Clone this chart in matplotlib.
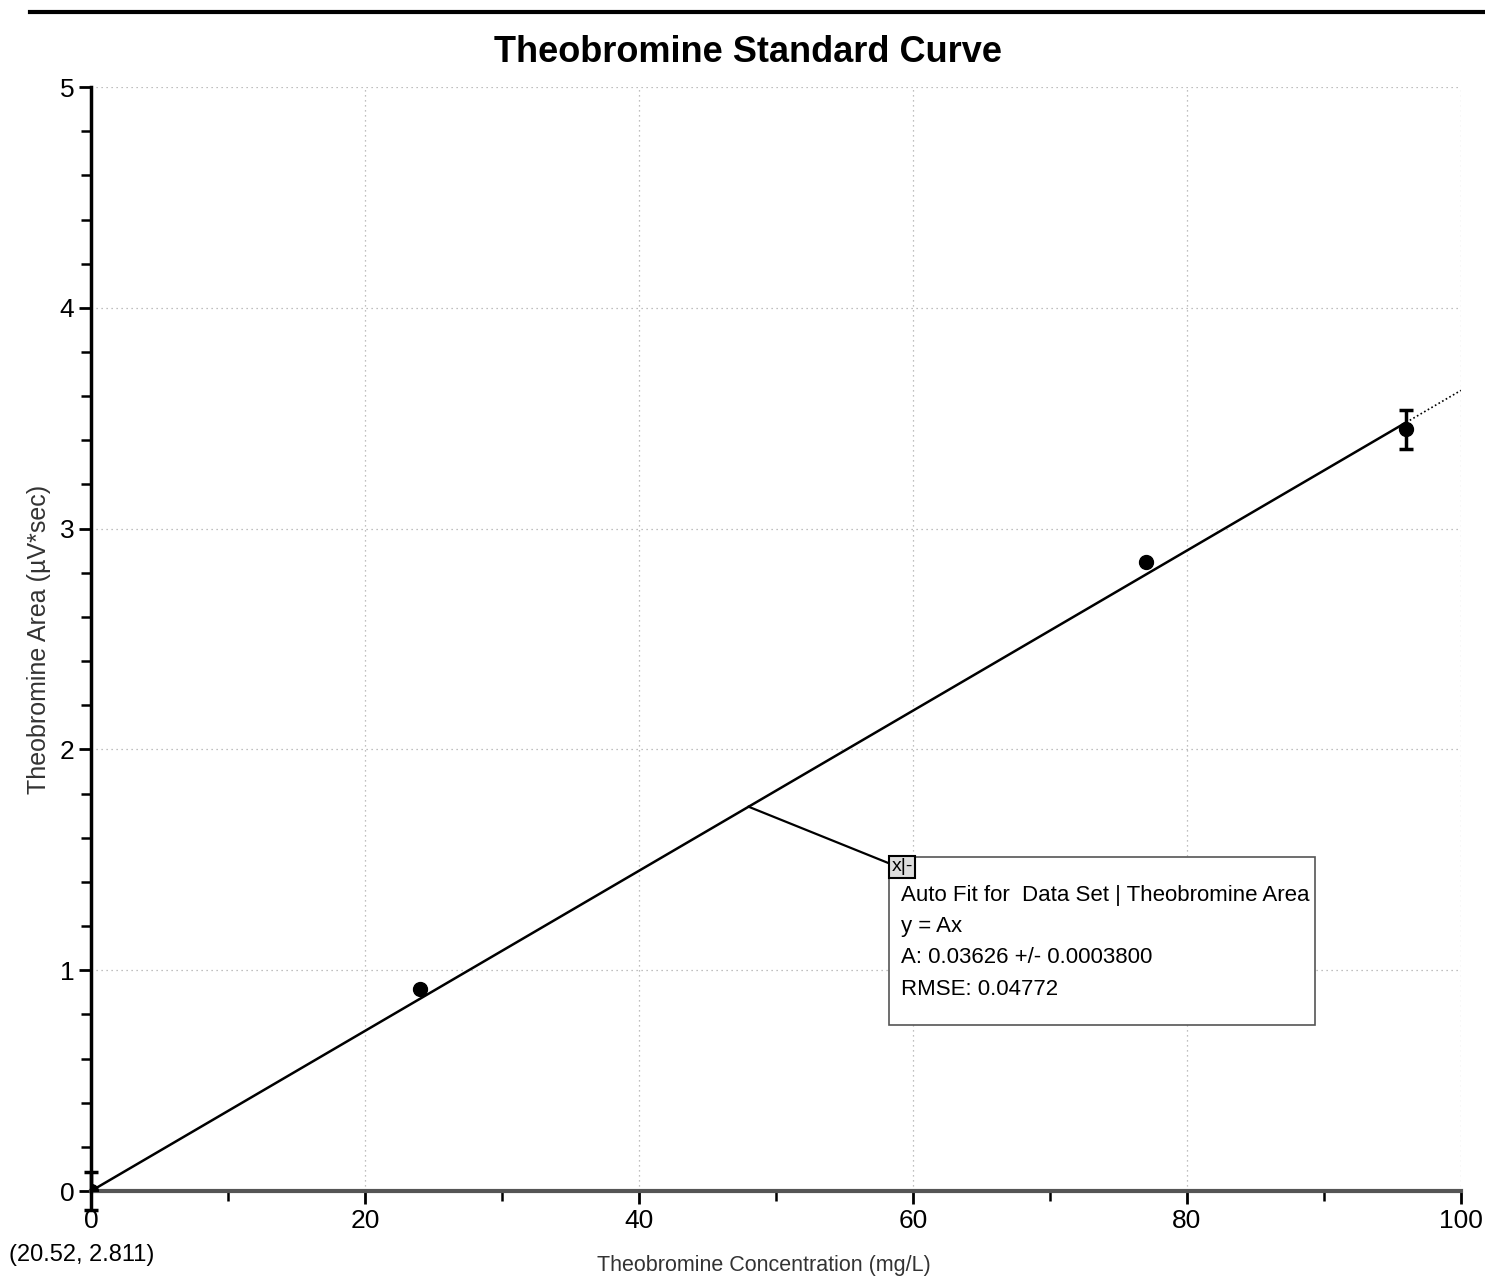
import matplotlib
matplotlib.use("Agg")
import matplotlib.pyplot as plt
import numpy as np
from matplotlib.ticker import MultipleLocator
from matplotlib.patches import Rectangle

plt.rcParams['font.family'] = ['Liberation Sans', 'DejaVu Sans']

# Standard samples
conc = [0.0, 24.0, 77.0, 96.0]          # mg/L
area = [0.0, 0.915, 2.85, 3.45]         # uV*sec
area_err = [0.088, 0.0, 0.0, 0.088]

# Fit y = A x
slope = 0.03626
slope_err = 0.0003800
rmse = 0.04772
x_max = 100.0

x_ticks = [0, 20, 40, 60, 80, 100]
y_ticks = [0, 1, 2, 3, 4, 5]

fig = plt.figure(figsize=(14.85, 12.76), dpi=100)
ax = fig.add_axes([0.0613, 0.0666, 0.9225, 0.8652])

ax.set_xlim(0, 100)
ax.set_ylim(0, 5)
ax.set_xticks(x_ticks)
ax.set_yticks(y_ticks)
ax.xaxis.set_minor_locator(MultipleLocator(10))
ax.yaxis.set_minor_locator(MultipleLocator(0.2))
ax.tick_params(axis='both', which='major', direction='out', length=9, width=2,
               labelsize=19, color='black')
ax.tick_params(axis='both', which='minor', direction='out', length=7, width=1.8)
ax.tick_params(axis='x', pad=4)
ax.tick_params(axis='y', pad=3)

for s in ['top', 'right']:
    ax.spines[s].set_visible(False)
ax.spines['left'].set_linewidth(2.5)
ax.spines['bottom'].set_linewidth(3)
ax.spines['bottom'].set_color('#555555')

ax.grid(True, which='major', linestyle=(0, (1, 3)), color='#aaaaaa', linewidth=0.9)
ax.set_axisbelow(True)

# Fit line: solid over the data range, dotted extension to the axis end
xs_solid = np.array([0.0, max(conc)])
ax.plot(xs_solid, slope * xs_solid, color='black', linewidth=1.8, zorder=3)
xs_ext = np.array([max(conc), x_max])
ax.plot(xs_ext, slope * xs_ext, color='black', linewidth=1.2,
        linestyle=(0, (1, 1.5)), zorder=3)

# Error bars (allowed to extend below the axis) and data markers
ax.errorbar(conc, area, yerr=area_err, fmt='none', ecolor='black',
            capsize=5, capthick=2.5, elinewidth=2.5, zorder=4, clip_on=False)
ax.plot(conc, area, 'o', color='black', markersize=10, zorder=4)

fig.text(0.504, 0.959, 'Theobromine Standard Curve', fontsize=26,
         fontweight='bold', ha='center', va='center')
ax.set_xlabel('Theobromine Concentration (mg/L)', fontsize=15.5, color='#333333',
              labelpad=16, x=0.491)
ax.set_ylabel('Theobromine Area (\u00b5V*sec)', fontsize=18, color='#333333', labelpad=6)

# Fit annotation box
fit_x = 48.0
box_left, box_top = 58.25, 1.513
box_w, box_h = 31.1, 0.761
ax.plot([fit_x, box_left + 0.45], [slope * fit_x, box_top - 0.04], color='black',
        linewidth=1.6, zorder=5)
ax.add_patch(Rectangle((box_left, box_top - box_h), box_w, box_h, facecolor='white',
                       edgecolor='#555555', linewidth=1.2, zorder=5))
box_text = ('Auto Fit for  Data Set | Theobromine Area\ny = Ax\n'
            f'A: {slope:.5f} +/- {slope_err:.7f}\nRMSE: {rmse:.5f}')
ax.text(box_left + 0.9, box_top - 0.125, box_text, fontsize=16, va='top', ha='left',
        linespacing=1.65, zorder=6)
ax.text(box_left + 0.2, box_top - 0.045, 'x|-', fontsize=14, va='center', ha='left',
        zorder=7, bbox=dict(boxstyle='square,pad=0.12', facecolor='#dddddd',
                            edgecolor='black', linewidth=1.5))

# Cursor readout
fig.text(0.006, 0.008, '(20.52, 2.811)', fontsize=17, ha='left', va='bottom')

# Window border line at the top
fig.add_artist(plt.Line2D([0.02, 1.0], [0.9905, 0.9905], color='black', linewidth=3))

fig.savefig('out.png', dpi=100, facecolor='white')
